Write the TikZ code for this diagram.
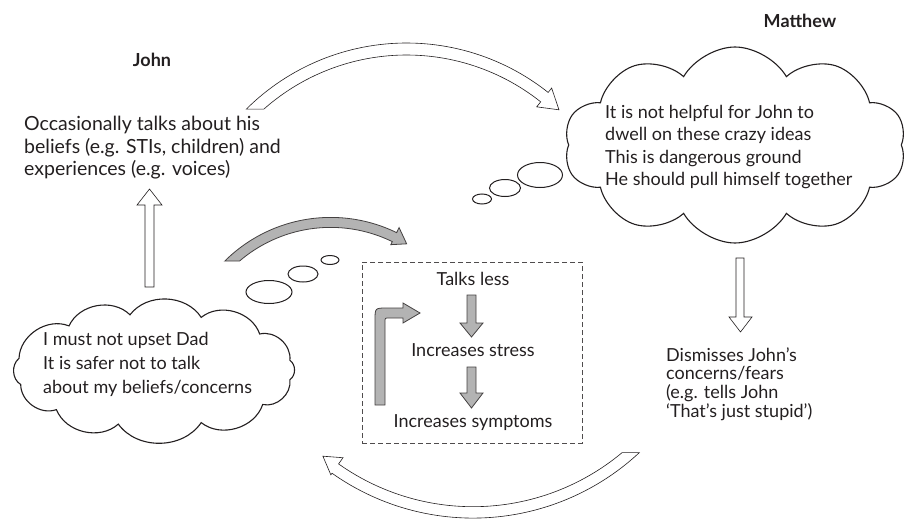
\documentclass[tikz,border=0pt]{standalone}
\usepackage{fontspec}
\setmainfont{Lato}
\usetikzlibrary{shapes.symbols,shapes.geometric}
\definecolor{ink}{HTML}{231F20}
\definecolor{greyfill}{HTML}{B3B3B3}
\begin{document}
\begin{tikzpicture}[x=1pt,y=-1pt,
  txt/.style={font=\fontsize{18}{24}\selectfont, text=ink, inner sep=0pt, align=left},
  ttl/.style={font=\fontsize{18}{22}\selectfont\bfseries, text=ink, inner sep=0pt},
  cloudshape/.style={cloud, draw=ink, line width=1.1pt, cloud puffs=10, cloud puff arc=120, cloud ignores aspect, inner sep=0pt},
  cloudline/.style={draw=ink, line width=1.1pt},
  puff/.style={bend right=55},
  bubble/.style={ellipse, draw=ink, line width=1pt, inner sep=0pt},
  hollow/.style={draw=ink, line width=0.6pt, fill=white},
  greyarrow/.style={draw=ink!85, line width=0.8pt, fill=greyfill},
  box/.style={draw=ink!80, dashed, dash pattern=on 5pt off 3pt, line width=0.8pt, inner sep=0pt}
]
\useasboundingbox (0,0) rectangle (907,519);

% titles
\node[ttl] (johnT) at (152,60) {John};
\node[ttl] (mattT) at (800,21) {Matthew};

% John's behaviour
\node[txt, anchor=west, font=\fontsize{19.5}{22.5}\selectfont] (johnB) at (24,148)
  {Occasionally talks about his\\beliefs (e.g. STIs, children) and\\experiences (e.g. voices)};

% Matthew cloud
\node[cloudshape, minimum width=342pt, minimum height=196pt] (mcloud) at (735,145) {};
\node[txt, anchor=west, font=\fontsize{18}{22.5}\selectfont] (mtext) at (605,147)
  {It is not helpful for John to\\dwell on these crazy ideas\\This is dangerous ground\\He should pull himself together};
\node[bubble, minimum width=45pt, minimum height=25pt] (mb1) at (540,175) {};
\node[bubble, minimum width=31pt, minimum height=17pt] (mb2) at (505,188) {};
\node[bubble, minimum width=19pt, minimum height=10pt] (mb3) at (482,199) {};

% John cloud
\draw[cloudline] (289.9,360.3) to[puff] (259.7,334.0) to[puff] (201.2,317.4) to[puff] (130.0,314.8)
  to[puff] (69.0,325.9) to[puff] (19.0,358.4) to[puff] (20.7,384.5) to[puff] (56.4,409.6)
  to[puff] (118.3,424.1) to[puff] (201.2,422.6) to[puff] (262.7,404.5) to[puff] (289.9,379.7)
  to[puff] cycle;
\node[txt, anchor=west, font=\fontsize{18}{24}\selectfont] (jtext) at (43,364)
  {I must not upset Dad\\It is safer not to talk\\about my beliefs/concerns};
\node[bubble, minimum width=46pt, minimum height=23pt] (jb1) at (269,292) {};
\node[bubble, minimum width=30pt, minimum height=16pt] (jb2) at (303,274) {};
\node[bubble, minimum width=18pt, minimum height=9pt] (jb3) at (330,260) {};

% Matthew's behaviour
\node[txt, anchor=west, font=\fontsize{18}{18.8}\selectfont] (dism) at (666,384)
  {Dismisses John’s\\concerns/fears\\(e.g. tells John\\‘That’s just stupid’)};

% vicious circle box
\node[box, minimum width=220pt, minimum height=181pt] (loop) at (472,352.5) {};
\node[txt] (talks) at (473,279) {Talks less};
\node[txt] (stress) at (473,350) {Increases stress};
\node[txt] (sympt) at (473,423) {Increases symptoms};

% straight block arrows
\draw[hollow] (145,287) -- (145,205) -- (137,205) -- (149.5,189) -- (162,205) -- (154,205) -- (154,287) -- cycle;
\draw[hollow] (736,258) -- (736,317) -- (729,317) -- (740.5,332) -- (752,317) -- (744,317) -- (744,258) -- cycle;
\draw[greyarrow] (467,295) -- (467,323) -- (460,323) -- (471.5,337) -- (483,323) -- (476,323) -- (476,295) -- cycle;
\draw[greyarrow] (467,367) -- (467,393) -- (460,393) -- (471.5,408) -- (483,393) -- (476,393) -- (476,367) -- cycle;
\draw[greyarrow] (375,405) -- (375,320) .. controls (375,308) .. (387,308) -- (403,308) -- (403,303) -- (420,313) -- (403,323) -- (403,318) -- (389,318) .. controls (385,318) .. (385,322) -- (385,405) -- cycle;

% top curved arrow (John -> Matthew)
\draw[hollow] plot[domain=134.8:51.5, samples=60] ({406.6+227.4*cos(\x)},{270.4-227.4*sin(\x)})
  -- ({406.6+233*cos(51.5)},{270.4-233*sin(51.5)})
  -- ({406.6+221.4*cos(46.5)},{270.4-221.4*sin(46.5)})
  -- ({406.6+209*cos(51.5)},{270.4-209*sin(51.5)})
  -- plot[domain=51.5:131.5, samples=60] ({406.6+215.4*cos(\x)},{270.4-215.4*sin(\x)}) -- cycle;

% grey curved arrow (John cloud -> box)
\draw[greyarrow] plot[domain=134.8:64, samples=60] ({330.7+150.4*cos(\x)},{367.8-150.4*sin(\x)})
  -- ({330.7+156*cos(64)},{367.8-156*sin(64)})
  -- ({330.7+145.4*cos(58.5)},{367.8-145.4*sin(58.5)})
  -- ({330.7+137*cos(64)},{367.8-137*sin(64)})
  -- plot[domain=64:130.5, samples=60] ({330.7+140.4*cos(\x)},{367.8-140.4*sin(\x)}) -- cycle;

% bottom curved arrow (Matthew -> box)
\draw[hollow] plot[domain=-47.05:-125.3, samples=60] ({473+244*cos(\x)},{274.1-244*sin(\x)})
  -- ({473+246*cos(-125.3)},{274.1-246*sin(-125.3)})
  -- ({473+236*cos(-129.5)},{274.1-236*sin(-129.5)})
  -- ({473+225*cos(-125.3)},{274.1-225*sin(-125.3)})
  -- plot[domain=-125.3:-50.16, samples=60] ({473+232.6*cos(\x)},{274.1-232.6*sin(\x)}) -- cycle;
\end{tikzpicture}
\end{document}
